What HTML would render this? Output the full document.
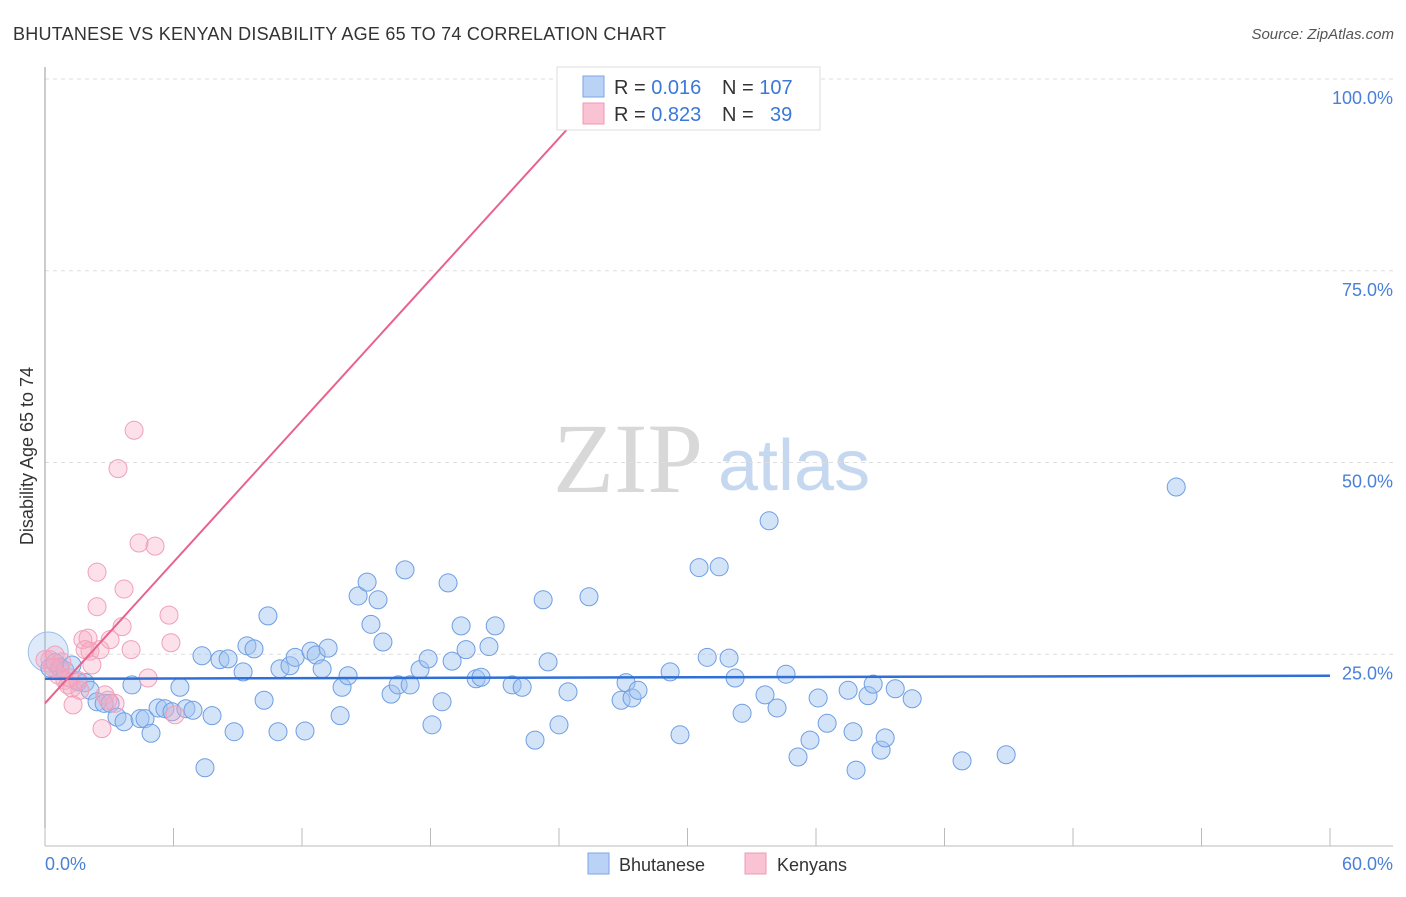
<!DOCTYPE html>
<html><head><meta charset="utf-8"><style>
body{margin:0;background:#fff;font-family:"Liberation Sans",sans-serif}
svg text{font-family:"Liberation Sans",sans-serif}
svg text.serif{font-family:"Liberation Serif",serif}
</style></head><body>
<svg id="chart" width="1406" height="892" xmlns="http://www.w3.org/2000/svg">
<text x="13" y="40" font-size="18" fill="#333" textLength="653">BHUTANESE VS KENYAN DISABILITY AGE 65 TO 74 CORRELATION CHART</text>
<text x="1394" y="39" font-size="15" fill="#555" text-anchor="end" font-style="italic">Source: ZipAtlas.com</text>
<text transform="translate(33,456) rotate(-90)" font-size="18" fill="#333" text-anchor="middle">Disability Age 65 to 74</text>
<g>
<text class="serif" x="553" y="492" font-size="100" fill="#d8d8d8">ZIP</text>
<text x="718" y="490" font-size="72" fill="#c5d8f0">atlas</text>
</g>
<g id="grid"></g><g id="axes"></g><g id="marks"></g><g id="lines"></g>
<g>
<rect x="557" y="67" width="263" height="63" fill="#fff" stroke="#ddd"/>
<rect x="583" y="76" width="21" height="21" fill="#b9d2f5" stroke="#7aa6e6"/>
<rect x="583" y="103" width="21" height="21" fill="#f9c3d3" stroke="#f09ab5"/>
<text x="614" y="94" font-size="20" fill="#333">R = <tspan fill="#3b78d8">0.016</tspan><tspan x="722">N = </tspan><tspan fill="#3b78d8">107</tspan></text>
<text x="614" y="121" font-size="20" fill="#333">R = <tspan fill="#3b78d8">0.823</tspan><tspan x="722">N = </tspan><tspan fill="#3b78d8" x="770">39</tspan></text>
</g>
<g>
<rect x="588" y="853" width="21" height="21" fill="#b9d2f5" stroke="#7aa6e6"/>
<text x="619" y="871" font-size="18" fill="#333">Bhutanese</text>
<rect x="745" y="853" width="21" height="21" fill="#f9c3d3" stroke="#f09ab5"/>
<text x="777" y="871" font-size="18" fill="#333">Kenyans</text>
</g>
</svg>
<script>
const yTicks=[25,50,75,100];
const yTickLabels=["25.0%","50.0%","75.0%","100.0%"];
const xTickVals=[0,6,12,18,24,30,36,42,48,54,60];
const xEndLabels=["0.0%","60.0%"];
const blueX=[.23,.47,.70,.93,1.26,1.54,1.87,2.10,2.43,2.76,3.04,3.36,3.69,4.06,4.44,4.67,4.95,5.28,5.60,5.93,6.30,6.58,6.91,7.33,7.47,7.80,8.17,8.55,8.83,9.25,9.43,9.76,10.23,10.41,10.88,10.97,11.44,11.68,12.14,12.42,12.66,12.94,13.22,13.78,13.87,14.15,14.62,15.04,15.22,15.55,15.78,16.16,16.49,16.81,17.05,17.51,17.89,18.07,18.54,18.82,19.01,19.43,19.66,20.13,20.36,20.73,21.02,21.81,22.28,22.88,23.26,23.49,24.00,24.42,25.40,26.90,27.13,27.41,27.69,29.19,29.65,30.54,30.92,31.48,31.94,32.22,32.55,33.62,33.81,34.18,34.60,35.16,35.72,36.10,36.52,37.50,37.73,37.87,38.43,38.67,39.04,39.23,39.70,40.49,42.82,44.88,52.82];
const blueY=[23.2,23.9,23.3,22.9,23.6,21.4,21.3,20.3,18.8,18.6,18.6,16.8,16.2,21.0,16.6,16.6,14.7,18.0,17.9,17.5,20.7,17.9,17.7,24.8,10.2,17.0,24.3,24.4,14.9,22.7,26.1,25.7,19.0,30.0,14.9,23.1,23.5,24.6,15.0,25.4,24.9,23.1,25.8,17.0,20.7,22.2,32.6,34.4,28.9,32.1,26.6,19.8,21.0,36.0,21.0,23.0,24.4,15.8,18.8,34.3,24.1,28.7,25.6,21.8,22.0,26.0,28.7,21.0,20.7,13.8,32.1,24.0,15.8,20.1,32.5,19.0,21.3,19.3,20.3,22.7,14.5,36.3,24.6,36.4,24.5,21.9,17.3,19.7,42.4,18.0,22.4,11.6,13.8,19.3,16.0,20.3,14.9,9.9,19.6,21.1,12.5,14.1,20.5,19.2,11.1,11.9,46.8];
const pinkX=[.23,.47,.70,.93,1.26,1.31,1.54,1.77,2.01,2.10,2.19,2.43,2.43,2.57,2.66,2.80,3.04,3.27,3.41,3.60,3.69,4.02,4.16,4.39,4.81,5.14,5.79,5.88,6.07,.61,.79,1.07,1.63,2.94,0,.37,1.17,1.87,24.4];
const pinkY=[24.3,24.9,23.0,21.6,20.6,18.4,21.6,26.9,27.1,25.4,23.6,31.2,35.7,25.6,15.3,19.7,26.9,18.6,49.2,28.6,33.5,25.6,54.2,39.5,21.9,39.1,30.1,26.5,17.1,22.3,24.0,21.0,20.3,19.0,24.3,23.3,21.9,25.6,100];
const blueTrend=[21.8,22.2];
const pinkTrend=[18.6,3.07];
const NS="http://www.w3.org/2000/svg";
const X=v=>45+v*1285/60, Y=v=>846-v*7.67;
function mk(t,a,p){const e=document.createElementNS(NS,t);for(const k in a)e.setAttribute(k,a[k]);p.appendChild(e);return e;}
const grid=document.getElementById('grid'),axes=document.getElementById('axes'),marks=document.getElementById('marks'),lines=document.getElementById('lines');
yTicks.forEach((t,i)=>{
 const l=mk('line',{x1:45,x2:1393,y1:Y(t),y2:Y(t),stroke:'#ddd','stroke-dasharray':'4,4'},grid);
 
 
 const tx=mk('text',{x:1393,y:Y(t)+25,'font-size':18,fill:'#4a80d8','text-anchor':'end'},axes);
 tx.textContent=yTickLabels[i];
 
 
});
const ax=mk('line',{x1:45,x2:45,y1:67,y2:846,stroke:'#999'},axes);


const bx=mk('line',{x1:45,x2:1393,y1:846,y2:846,stroke:'#bbb'},axes);


xTickVals.forEach(v=>{
 const t=mk('line',{x1:X(v),x2:X(v),y1:828,y2:846,stroke:'#bbb'},axes);
 
 
});
[[0,'start',45],[60,'end',1393]].forEach((d,i)=>{
 const tx=mk('text',{x:d[2],y:870,'font-size':18,fill:'#4a80d8','text-anchor':d[1]},axes);
 tx.textContent=xEndLabels[i];
 
 
});
const big=mk('circle',{cx:X(0.15),cy:Y(25.3),r:20,fill:'rgba(160,195,240,0.35)',stroke:'#9dbdea'},marks);


blueX.forEach((v,i)=>{
 const c=mk('circle',{cx:X(v),cy:Y(blueY[i]),r:9,fill:'rgba(160,195,240,0.45)',stroke:'#6e9ee3','stroke-width':1},marks);
 
 
});
pinkX.forEach((v,i)=>{
 const c=mk('circle',{cx:X(v),cy:Y(pinkY[i]),r:9,fill:'rgba(245,170,195,0.35)',stroke:'#f0a0b8','stroke-width':1},marks);
 
 
});
const bl=mk('line',{x1:X(0),y1:Y(blueTrend[0]),x2:X(60),y2:Y(blueTrend[1]),stroke:'#2f6fd6','stroke-width':2.5},lines);


const xe=(100-pinkTrend[0])/pinkTrend[1];
const pl=mk('line',{x1:X(0),y1:Y(pinkTrend[0]),x2:X(xe),y2:Y(100),stroke:'#e8628c','stroke-width':2},lines);


</script>
</body></html>
